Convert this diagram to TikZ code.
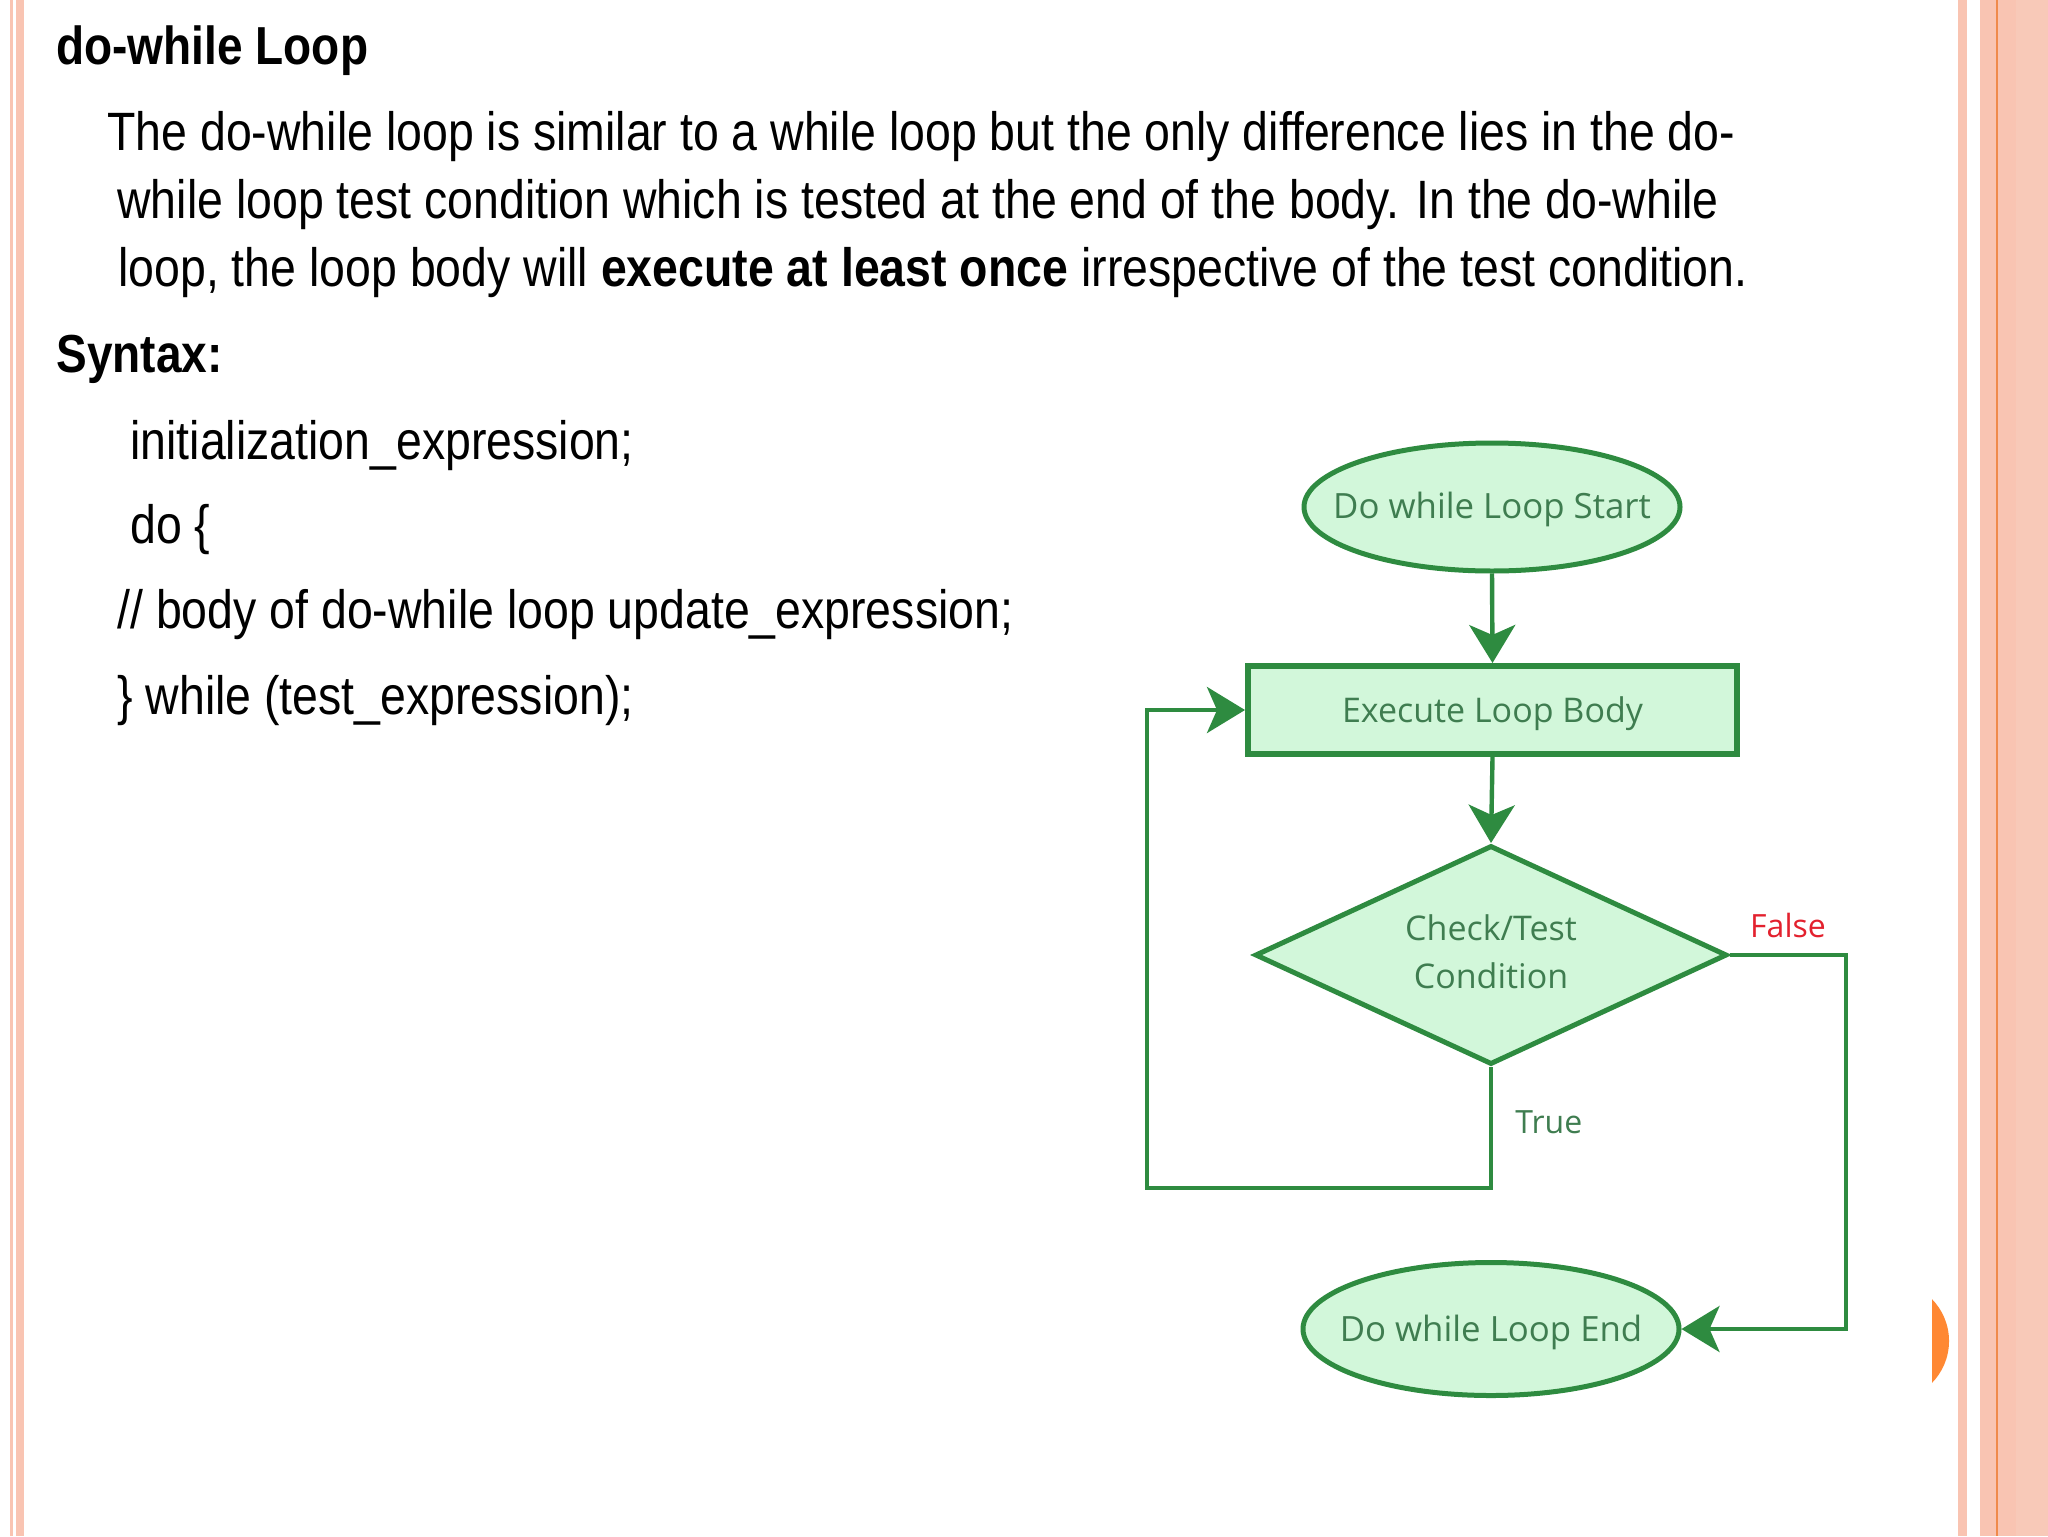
\documentclass[tikz,border=0pt]{standalone}
\usepackage{fontspec}
\setmainfont{Liberation Sans}
\newfontfamily\slidefont[FakeStretch=0.86]{Liberation Sans}
\newfontfamily\chartfont{Open Sans}
\usetikzlibrary{shapes.geometric,arrows.meta}
\definecolor{bordergreen}{HTML}{2E8B40}
\definecolor{fillgreen}{HTML}{D2F7DA}
\definecolor{textgreen}{HTML}{3F7D50}
\definecolor{falsered}{HTML}{E3212E}
\definecolor{stripe}{HTML}{F9C4B2}
\definecolor{stripeb}{HTML}{F8C9B8}
\definecolor{orangeline}{HTML}{F08A4B}
\definecolor{orangedot}{HTML}{FF8833}
\newcommand{\fctext}[2]{\makebox[0pt]{\smash{\raisebox{#1}{#2}}}}
\tikzset{
  bodytext/.style={anchor=base west, inner sep=0pt, font=\slidefont\fontsize{27pt}{32pt}\selectfont},
  headtext/.style={anchor=base west, inner sep=0pt, font=\slidefont\bfseries\fontsize{26.75pt}{32pt}\selectfont},
  terminal/.style={ellipse, draw=bordergreen, fill=fillgreen, line width=2.5pt, minimum width=188pt, minimum height=64pt, inner sep=0pt, text=textgreen, font=\chartfont\fontsize{17.4pt}{24pt}\selectfont},
  process/.style={rectangle, draw=bordergreen, fill=fillgreen, line width=3pt, minimum width=244.5pt, minimum height=44pt, inner sep=0pt, text=textgreen, font=\chartfont\fontsize{17pt}{24pt}\selectfont},
  decision/.style={diamond, draw=bordergreen, fill=fillgreen, line width=2.5pt, aspect=2.18, minimum width=236pt, minimum height=109.5pt, inner sep=0pt, text=textgreen, font=\chartfont\fontsize{17pt}{24pt}\selectfont},
  conn/.style={draw=bordergreen, line width=2.2pt},
  arr/.style={conn, -{Stealth[length=19pt,width=23pt,inset=5pt]}},
  lbl/.style={inner sep=0pt, anchor=base, font=\chartfont\fontsize{16pt}{20pt}\selectfont}
}
\begin{document}
\begin{tikzpicture}[x=0.5pt,y=-0.5pt]
\useasboundingbox (0,0) rectangle (2048,1536);
\fill[white] (0,0) rectangle (2048,1536);
% left stripes
\fill[stripe] (10,0) rectangle (12.5,1536);
\fill[stripe] (16,0) rectangle (24,1536);
% right stripes
\fill[stripe] (1958,0) rectangle (1967,1536);
\fill[stripe] (1980,0) rectangle (2016,1536);
\fill[stripeb] (2016,0) rectangle (2048,1536);
\fill[orangeline] (1996,0) rectangle (1998,1536);
% orange half disc
\begin{scope}
\clip (1932,1280) rectangle (1960,1400);
\fill[orangedot] (1889,1341) circle (30pt);
\end{scope}
% text
\node[headtext] (title) at (56,65) {do-while Loop};
\node[bodytext] (p1) at (107,150) {The do-while loop is similar to a while loop but the only difference lies in the do-};
\node[bodytext] (p2) at (117,218) {while loop test condition which is tested at the end of the body. In the do-while};
\node[bodytext] (p3) at (118,286) {loop, the loop body will \textbf{execute at least once} irrespective of the test condition.};
\node[headtext] (syntax) at (56,372) {Syntax:};
\node[bodytext] (c1) at (130,459) {initialization\_expression;};
\node[bodytext] (c2) at (130,543) {do \{};
\node[bodytext] (c3) at (117,628) {// body of do-while loop update\_expression;};
\node[bodytext] (c4) at (117,714) {\} while (test\_expression);};
% flowchart
\node[terminal] (start) at (1492,507) {\fctext{-5.5pt}{Do while Loop Start}};
\node[process] (body) at (1492.5,710) {\fctext{-6pt}{Execute Loop Body}};
\node[decision] (cond) at (1491,955) {\fctext{7.5pt}{\begin{tabular}[t]{@{}c@{}}Check/Test\\Condition\end{tabular}}};
\node[terminal, minimum height=66.5pt] (end) at (1491,1329) {\fctext{-6pt}{Do while Loop End}};
\coordinate (trueturn) at (1147,1188);
\coordinate (falseturn) at (1846,1329);
\draw[arr] (start.south) -- (body.north);
\draw[arr] (body.south) -- (cond.north);
\draw[arr] (cond.south) |- (trueturn) |- (body.west);
\draw[arr] (cond.east) -| (falseturn) -- (end.east);
\node[lbl, text=falsered] (falselbl) at (1788,937) {False};
\node[lbl, text=textgreen, anchor=base west] (truelbl) at (1515,1133) {True};
\end{tikzpicture}
\end{document}
